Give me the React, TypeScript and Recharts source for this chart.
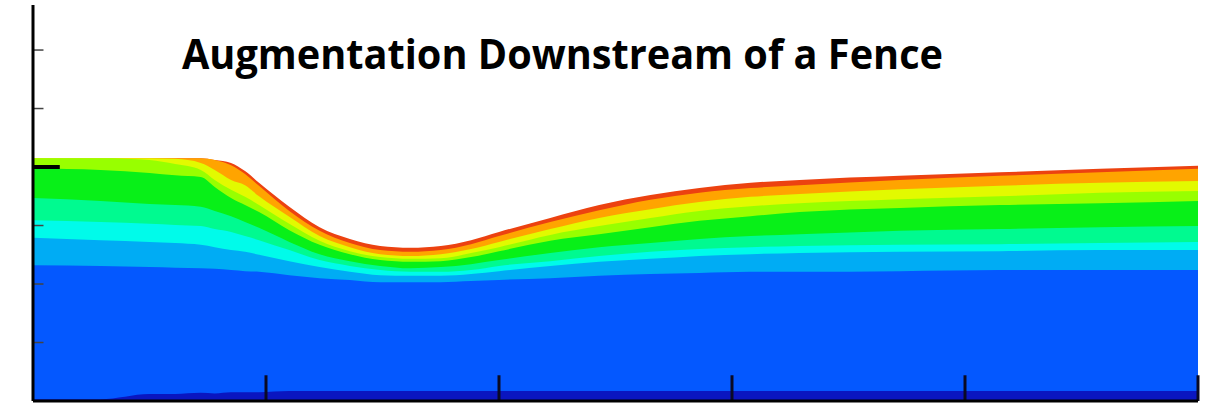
import React from "react";
import { ComposedChart, Area, XAxis, YAxis, ReferenceLine } from "recharts";

// Horizontal positions of the sampled columns (distance downstream)
const xPositions = [0, 0.29, 0.5, 0.61, 0.72, 0.78, 0.85, 0.91, 0.97, 1.1, 1.23, 1.36, 1.49, 1.62, 1.75, 1.88, 2.0, 2.22, 2.43, 2.65, 2.86, 3.08, 3.29, 3.72, 4.15, 4.58, 5.0];

// Upper boundary of each contour band (height), top band first
const redTop = [4.15, 4.15, 4.15, 4.15, 4.15, 4.12, 4.07, 3.93, 3.73, 3.32, 2.97, 2.77, 2.65, 2.62, 2.65, 2.75, 2.89, 3.13, 3.35, 3.52, 3.64, 3.73, 3.78, 3.85, 3.91, 3.97, 4.02];
const orangeTop = [4.15, 4.15, 4.15, 4.15, 4.15, 4.12, 4.03, 3.88, 3.68, 3.25, 2.91, 2.7, 2.58, 2.55, 2.58, 2.68, 2.82, 3.06, 3.26, 3.44, 3.56, 3.64, 3.69, 3.78, 3.85, 3.91, 3.97];
const yellowTop = [4.15, 4.15, 4.15, 4.14, 4.07, 3.95, 3.78, 3.69, 3.5, 3.15, 2.82, 2.63, 2.51, 2.48, 2.51, 2.6, 2.72, 2.94, 3.13, 3.28, 3.4, 3.49, 3.54, 3.62, 3.68, 3.73, 3.76];
const limeTop = [4.15, 4.15, 4.12, 4.05, 3.95, 3.78, 3.61, 3.49, 3.35, 3.03, 2.74, 2.56, 2.46, 2.43, 2.44, 2.53, 2.63, 2.84, 2.99, 3.13, 3.25, 3.33, 3.38, 3.45, 3.5, 3.56, 3.59];
const greenTop = [3.98, 3.95, 3.9, 3.86, 3.83, 3.66, 3.47, 3.35, 3.23, 2.92, 2.67, 2.51, 2.41, 2.38, 2.39, 2.46, 2.56, 2.74, 2.85, 2.97, 3.08, 3.16, 3.23, 3.3, 3.35, 3.38, 3.42];
const springTop = [3.47, 3.42, 3.37, 3.35, 3.32, 3.25, 3.16, 3.06, 2.96, 2.72, 2.51, 2.39, 2.31, 2.27, 2.29, 2.34, 2.41, 2.53, 2.63, 2.7, 2.77, 2.82, 2.85, 2.91, 2.94, 2.97, 2.99];
const cyanTop = [3.09, 3.06, 3.03, 3.01, 2.99, 2.94, 2.89, 2.82, 2.75, 2.58, 2.41, 2.31, 2.24, 2.21, 2.21, 2.24, 2.31, 2.39, 2.48, 2.55, 2.6, 2.63, 2.65, 2.67, 2.68, 2.7, 2.72];
const lightBlueTop = [2.79, 2.75, 2.72, 2.7, 2.67, 2.63, 2.58, 2.55, 2.5, 2.39, 2.29, 2.21, 2.15, 2.14, 2.14, 2.17, 2.22, 2.31, 2.38, 2.43, 2.48, 2.51, 2.53, 2.55, 2.56, 2.58, 2.58];
const blueTop = [2.32, 2.31, 2.29, 2.28, 2.27, 2.26, 2.24, 2.22, 2.21, 2.15, 2.1, 2.07, 2.03, 2.03, 2.03, 2.05, 2.07, 2.1, 2.14, 2.17, 2.19, 2.21, 2.21, 2.22, 2.24, 2.24, 2.24];
const darkBlueTop = [0.03, 0.03, 0.12, 0.12, 0.14, 0.13, 0.15, 0.15, 0.15, 0.17, 0.17, 0.17, 0.17, 0.17, 0.17, 0.17, 0.17, 0.17, 0.17, 0.17, 0.17, 0.17, 0.17, 0.17, 0.17, 0.17, 0.17];

const bandKeys = ["red", "orange", "yellow", "lime", "green", "spring", "cyan", "lightBlue", "blue", "darkBlue"];
const bandColors = ["#ec4210", "#ffa400", "#e2fa00", "#98ff00", "#08f018", "#00fa90", "#00fbea", "#00acf4", "#0458ff", "#0a16c0"];
const bandSeries = [redTop, orangeTop, yellowTop, limeTop, greenTop, springTop, cyanTop, lightBlueTop, blueTop, darkBlueTop];

const xMajorTicks = [1, 2, 3, 4, 5];
const yMinorTicks = [1, 2, 3, 5, 6];
const fenceTick = 4;
const title = "Augmentation Downstream of a Fence";

const data = xPositions.map((x, i) => {
  const row: Record<string, number> = { x };
  bandKeys.forEach((k, j) => {
    row[k] = bandSeries[j][i];
  });
  return row;
});

export default function App() {
  return (
    <div style={{ position: "absolute", left: 0, top: 0, width: 1212, height: 409, background: "#fff" }}>
      <ComposedChart width={1212} height={409} data={data} margin={{ top: 5, right: 14, bottom: 8, left: 33 }}>
        <XAxis dataKey="x" type="number" domain={[0, 5]} hide />
        <YAxis type="number" domain={[0, 6.77]} hide />
        {bandKeys.map((k, j) => (
          <Area
            key={k}
            dataKey={k}
            type="monotone"
            stroke="none"
            fill={bandColors[j]}
            fillOpacity={1}
            isAnimationActive={false}
            dot={false}
            activeDot={false}
          />
        ))}
        {xMajorTicks.map((t) => (
          <ReferenceLine key={"xt" + t} segment={[{ x: t, y: 0 }, { x: t, y: 0.44 }]} stroke="#0a0a24" strokeWidth={3} />
        ))}
        {yMinorTicks.map((t) => (
          <ReferenceLine key={"yt" + t} segment={[{ x: 0, y: t }, { x: 0.045, y: t }]} stroke="#444" strokeWidth={1.5} />
        ))}
        <ReferenceLine segment={[{ x: 0, y: fenceTick }, { x: 0.115, y: fenceTick }]} stroke="#000" strokeWidth={4} />
        <ReferenceLine x={0} stroke="#000" strokeWidth={3} />
        <ReferenceLine y={0} stroke="#000" strokeWidth={3} />
      </ComposedChart>
      <svg width={1212} height={409} style={{ position: "absolute", left: 0, top: 0, pointerEvents: "none" }}>
        <text
          x={182}
          y={69}
          fontFamily="'Open Sans', sans-serif"
          fontWeight={700}
          fontSize={41}
          textLength={761}
          lengthAdjust="spacingAndGlyphs"
          fill="#000"
        >
          {title}
        </text>
      </svg>
    </div>
  );
}
